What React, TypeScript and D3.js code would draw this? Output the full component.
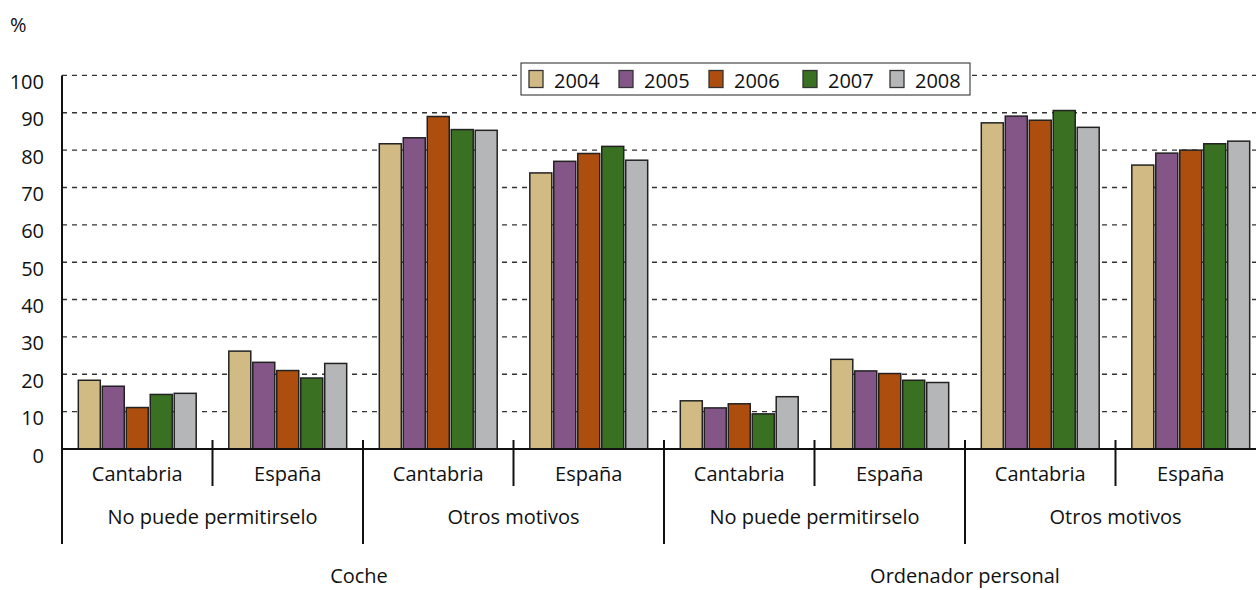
import React from 'react';
import * as d3 from 'd3';

const years = ['2004', '2005', '2006', '2007', '2008'];
const items = ['Coche', 'Ordenador personal'];
const reasons = ['No puede permitirselo', 'Otros motivos'];
const regions = ['Cantabria', 'España'];
const yTicks = [0, 10, 20, 30, 40, 50, 60, 70, 80, 90, 100];

// values per year, ordered: item > reason > region
const v2004 = [18.4, 26.2, 81.7, 73.9, 12.9, 24.0, 87.3, 76.0];
const v2005 = [16.8, 23.2, 83.3, 77.0, 11.0, 20.9, 89.1, 79.2];
const v2006 = [11.1, 21.0, 89.0, 79.1, 12.1, 20.2, 88.0, 80.0];
const v2007 = [14.6, 19.0, 85.5, 81.0, 9.4, 18.4, 90.6, 81.7];
const v2008 = [14.9, 22.9, 85.3, 77.3, 14.0, 17.8, 86.1, 82.4];
const series = [v2004, v2005, v2006, v2007, v2008];
const colors = ['#D2BA84', '#835687', '#AD4E0E', '#3A7022', '#B5B6B8'];

const W = 1256, H = 590;
const FONT = '"Open Sans", sans-serif';

export default function App() {
  const leaves: string[] = [];
  items.forEach((it) => reasons.forEach((r) => regions.forEach((g) => leaves.push(`${it}|${r}|${g}`))));
  const x = d3.scaleBand<string>().domain(leaves).range([62, 1266]).padding(0);
  const xs = d3.scaleBand<string>().domain(years).range([0, x.bandwidth()]).paddingInner(0.083).paddingOuter(0.68);
  const y = d3.scaleLinear().domain([0, 100]).range([449, 75.4]);
  const bw = x.bandwidth();
  const left = 62;

  const legendX = [529, 619, 709, 803, 890];

  return (
    <svg width={W} height={H} style={{ position: 'absolute', left: 0, top: 0, background: '#fff' }} fontFamily={FONT}>
      <rect x={0} y={0} width={W} height={H} fill="#fff" />
      <text x={10} y={32} fontSize={20} fill="#111">%</text>
      {/* grid */}
      {yTicks.filter((t) => t > 0).map((t) => (
        <line key={t} x1={left} x2={W} y1={y(t)} y2={y(t)} stroke="#333" strokeWidth={1.4} strokeDasharray="5,5" />
      ))}
      {/* y labels */}
      {yTicks.map((t) => (
        <text key={t} x={44} y={y(t) + 13.5} textAnchor="end" fontSize={20} fill="#111">{t}</text>
      ))}
      {/* bars */}
      {series.map((vals, si) =>
        vals.map((v, i) => (
          <rect key={`${si}-${i}`} x={x(leaves[i])! + xs(years[si])!} y={y(v)} width={xs.bandwidth()} height={y(0) - y(v)}
            fill={colors[si]} stroke="#222" strokeWidth={1.5} />
        ))
      )}
      {/* axes */}
      <line x1={left} x2={W} y1={y(0)} y2={y(0)} stroke="#111" strokeWidth={2} />
      <line x1={left} x2={left} y1={y(100)} y2={544} stroke="#111" strokeWidth={2} />
      {/* region labels and ticks */}
      {leaves.map((l) => (
        <text key={l} x={x(l)! + bw / 2} y={481} textAnchor="middle" fontSize={20} fill="#111">{l.split('|')[2]}</text>
      ))}
      {leaves.map((l, i) => i % 2 === 1 ? null : (
        <line key={'t' + l} x1={x(l)! + bw} x2={x(l)! + bw} y1={440} y2={486} stroke="#111" strokeWidth={2} />
      ))}
      {/* reason labels and ticks */}
      {items.flatMap((it) => reasons.map((r) => {
        const a = x(`${it}|${r}|${regions[0]}`)!;
        return (
          <g key={it + r}>
            <text x={a + bw} y={524} textAnchor="middle" fontSize={20} fill="#111">{r}</text>
            <line x1={a + 2 * bw} x2={a + 2 * bw} y1={440} y2={544} stroke="#111" strokeWidth={2} />
          </g>
        );
      }))}
      {/* item labels */}
      {items.map((it, i) => {
        const a = x(`${it}|${reasons[0]}|${regions[0]}`)!;
        return <text key={it} x={a + 2 * bw - (i === 0 ? 4 : 0)} y={583} textAnchor="middle" fontSize={20} fill="#111">{it}</text>;
      })}
      {/* legend */}
      <rect x={521} y={63} width={449} height={32} fill="#fff" stroke="#222" strokeWidth={1} />
      {years.map((yr, i) => (
        <g key={yr}>
          <rect x={legendX[i]} y={70.5} width={14} height={17} fill={colors[i]} stroke="#333" strokeWidth={1.3} />
          <text x={legendX[i] + 25} y={88} fontSize={20} fill="#111">{yr}</text>
        </g>
      ))}
    </svg>
  );
}
